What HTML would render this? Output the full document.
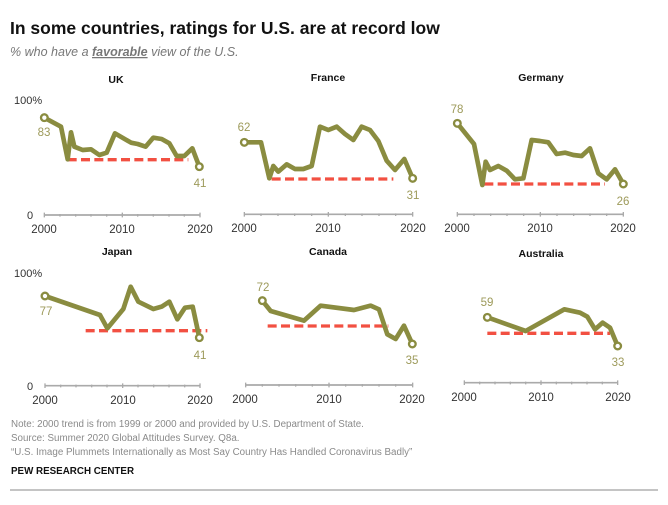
<!DOCTYPE html><html><head><meta charset="utf-8"><style>
body{margin:0;background:#fff;}
svg text{font-family:"Liberation Sans",sans-serif;}
</style></head><body>
<svg width="668" height="500" xmlns="http://www.w3.org/2000/svg">
<text x="10" y="34" font-size="17.5" font-weight="bold" fill="#111">In some countries, ratings for U.S. are at record low</text>
<text x="10" y="56" font-size="12.5" font-style="italic" fill="#777">% who have a <tspan font-weight="bold" text-decoration="underline">favorable</tspan> view of the U.S.</text>
<g font-size="10.5" font-weight="bold" fill="#111" text-anchor="middle">
<text x="116" y="83">UK</text><text x="328" y="81">France</text><text x="541" y="81">Germany</text>
<text x="117" y="255">Japan</text><text x="328" y="255">Canada</text><text x="541" y="257">Australia</text>
</g>
<g font-size="11" fill="#333"><text x="14" y="104">100%</text><text x="27" y="219">0</text><text x="14" y="277">100%</text><text x="27" y="390">0</text></g>

<g fill="none" stroke-linejoin="round" stroke-linecap="butt">
<!-- UK -->
<g transform="translate(0,60) scale(0.33333)">
<line x1="133" y1="465" x2="600" y2="465" stroke="#aaa" stroke-width="5"/>
<path d="M133,458V472M180,462V470M227,462V470M273,462V470M320,462V470M367,458V472M413,462V470M460,462V470M507,462V470M553,462V470M600,458V472" stroke="#aaa" stroke-width="4"/>
<line x1="203" y1="299" x2="565" y2="299" stroke="#f25042" stroke-width="10" stroke-dasharray="27,13"/>
<polyline points="133,173 183,200 203,298 213,217 223,260 248,270 273,268 298,285 320,278 345,220 393,248 413,252 437,260 460,233 485,237 508,250 530,288 553,288 577,265 598,320" stroke="#8a8c40" stroke-width="14"/>
<circle cx="133" cy="173" r="10" fill="#fff" stroke="#8a8c40" stroke-width="7"/><circle cx="598" cy="320" r="10" fill="#fff" stroke="#8a8c40" stroke-width="7"/>
</g>
<!-- France & Germany -->
<g transform="translate(225,60) scale(0.33333)">
<line x1="58" y1="463" x2="563" y2="463" stroke="#aaa" stroke-width="5"/>
<path d="M58,456V470M108,460V468M159,460V468M209,460V468M260,460V468M310,456V470M361,460V468M411,460V468M462,460V468M512,460V468M563,456V470" stroke="#aaa" stroke-width="4"/>
<line x1="140" y1="357" x2="505" y2="357" stroke="#f25042" stroke-width="10" stroke-dasharray="27,13"/>
<polyline points="58,247 108,247 133,355 145,318 160,335 185,313 210,327 235,327 260,318 285,200 310,210 335,200 360,222 385,240 410,200 435,210 460,243 485,302 510,330 538,297 563,355" stroke="#8a8c40" stroke-width="14"/>
<circle cx="58" cy="247" r="10" fill="#fff" stroke="#8a8c40" stroke-width="7"/><circle cx="563" cy="355" r="10" fill="#fff" stroke="#8a8c40" stroke-width="7"/>
<line x1="697" y1="463" x2="1195" y2="463" stroke="#aaa" stroke-width="5"/>
<path d="M697,456V470M747,460V468M797,460V468M846,460V468M896,460V468M946,456V470M996,460V468M1046,460V468M1095,460V468M1145,460V468M1195,456V470" stroke="#aaa" stroke-width="4"/>
<line x1="778" y1="372" x2="1140" y2="372" stroke="#f25042" stroke-width="10" stroke-dasharray="27,13"/>
<polyline points="697,190 747,252 772,375 782,305 795,330 820,318 845,332 870,358 895,355 920,240 945,243 970,247 995,282 1020,278 1045,285 1070,288 1095,265 1120,340 1145,358 1170,328 1195,372" stroke="#8a8c40" stroke-width="14"/>
<circle cx="697" cy="190" r="10" fill="#fff" stroke="#8a8c40" stroke-width="7"/><circle cx="1195" cy="372" r="10" fill="#fff" stroke="#8a8c40" stroke-width="7"/>
</g>
<!-- Japan & Canada -->
<g transform="translate(0,240) scale(0.33333)">
<line x1="135" y1="437" x2="600" y2="437" stroke="#aaa" stroke-width="5"/>
<path d="M135,430V444M182,434V442M228,434V442M275,434V442M321,434V442M368,430V444M414,434V442M461,434V442M507,434V442M554,434V442M600,430V444" stroke="#aaa" stroke-width="4"/>
<line x1="257" y1="272" x2="622" y2="272" stroke="#f25042" stroke-width="10" stroke-dasharray="27,13"/>
<polyline points="135,168 300,225 322,265 370,207 392,140 415,185 460,207 485,200 508,185 532,238 555,203 578,200 598,293" stroke="#8a8c40" stroke-width="14"/>
<circle cx="135" cy="168" r="10" fill="#fff" stroke="#8a8c40" stroke-width="7"/><circle cx="598" cy="293" r="10" fill="#fff" stroke="#8a8c40" stroke-width="7"/>
<line x1="737" y1="435" x2="1238" y2="435" stroke="#aaa" stroke-width="5"/>
<path d="M737,428V442M787,432V440M837,432V440M887,432V440M937,432V440M987,428V442M1037,432V440M1087,432V440M1137,432V440M1187,432V440M1238,428V442" stroke="#aaa" stroke-width="4"/>
<line x1="803" y1="258" x2="1165" y2="258" stroke="#f25042" stroke-width="10" stroke-dasharray="27,13"/>
<polyline points="787,182 812,213 912,242 962,197 1062,210 1112,197 1137,208 1162,283 1187,297 1212,257 1237,312" stroke="#8a8c40" stroke-width="14"/>
<circle cx="787" cy="182" r="10" fill="#fff" stroke="#8a8c40" stroke-width="7"/><circle cx="1237" cy="312" r="10" fill="#fff" stroke="#8a8c40" stroke-width="7"/>
</g>
<!-- Australia -->
<g transform="translate(430,240) scale(0.33333)">
<line x1="103" y1="428" x2="563" y2="428" stroke="#aaa" stroke-width="5"/>
<path d="M103,421V435M149,425V433M195,425V433M241,425V433M287,425V433M333,421V435M379,425V433M425,425V433M471,425V433M517,425V433M563,421V435" stroke="#aaa" stroke-width="4"/>
<line x1="172" y1="280" x2="540" y2="280" stroke="#f25042" stroke-width="10" stroke-dasharray="27,13"/>
<polyline points="172,232 287,273 403,208 450,218 472,230 495,268 518,248 540,263 563,318" stroke="#8a8c40" stroke-width="14"/>
<circle cx="172" cy="232" r="10" fill="#fff" stroke="#8a8c40" stroke-width="7"/><circle cx="563" cy="318" r="10" fill="#fff" stroke="#8a8c40" stroke-width="7"/>
</g>
</g>

<g font-size="11.5" fill="#9d9a5a" text-anchor="middle">
<text x="44" y="136">83</text><text x="200" y="187">41</text>
<text x="244" y="131">62</text><text x="413" y="199">31</text>
<text x="457" y="113">78</text><text x="623" y="205">26</text>
<text x="46" y="315">77</text><text x="200" y="359">41</text>
<text x="263" y="291">72</text><text x="412" y="364">35</text>
<text x="487" y="306">59</text><text x="618" y="366">33</text>
</g>
<g font-size="11.5" fill="#333" text-anchor="middle">
<text x="44" y="233">2000</text><text x="122" y="233">2010</text><text x="200" y="233">2020</text>
<text x="244" y="232">2000</text><text x="328" y="232">2010</text><text x="413" y="232">2020</text>
<text x="457" y="232">2000</text><text x="540" y="232">2010</text><text x="623" y="232">2020</text>
<text x="45" y="404">2000</text><text x="123" y="404">2010</text><text x="200" y="404">2020</text>
<text x="245" y="403">2000</text><text x="329" y="403">2010</text><text x="412" y="403">2020</text>
<text x="464" y="401">2000</text><text x="541" y="401">2010</text><text x="618" y="401">2020</text>
</g>
<g font-size="9.8" fill="#8a8a8a">
<text x="11" y="427">Note: 2000 trend is from 1999 or 2000 and provided by U.S. Department of State.</text>
<text x="11" y="441">Source: Summer 2020 Global Attitudes Survey. Q8a.</text>
<text x="11" y="455">“U.S. Image Plummets Internationally as Most Say Country Has Handled Coronavirus Badly”</text>
</g>
<text x="11" y="474" font-size="9.8" font-weight="bold" fill="#111">PEW RESEARCH CENTER</text>
<line x1="10" y1="490" x2="658" y2="490" stroke="#888" stroke-width="1"/>
</svg>
</body></html>
